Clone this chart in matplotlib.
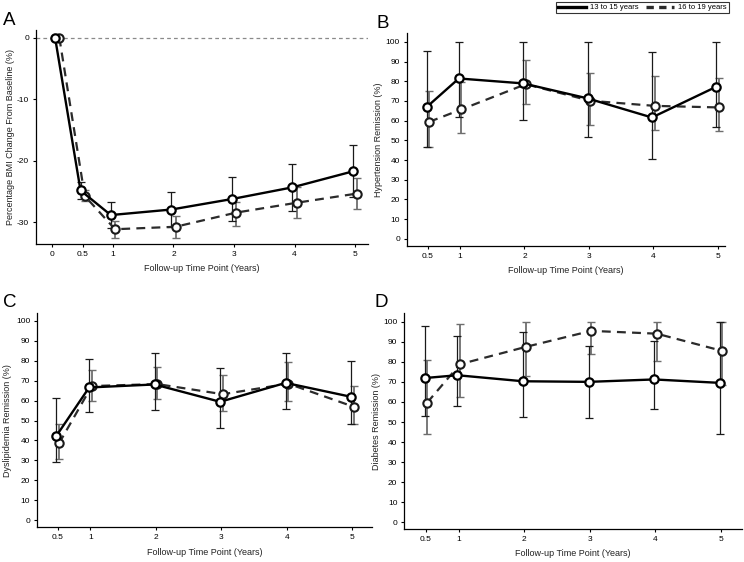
import matplotlib
matplotlib.use("Agg")
import matplotlib.pyplot as plt
from matplotlib.lines import Line2D
import numpy as np

plt.rcParams['font.family'] = ['Liberation Sans', 'DejaVu Sans']
plt.rcParams['axes.unicode_minus'] = False

# ---- data ------------------------------------------------------------------
times = [0.5, 1, 2, 3, 4, 5]
times_a = [0.08, 0.5, 1, 2, 3, 4, 5]

# Panel A: percentage BMI change from baseline
bmi_young = [0, -24.8, -28.8, -27.9, -26.2, -24.3, -21.7]
bmi_young_lo = [0, -26.2, -30.9, -30.8, -29.7, -28.1, -25.9]
bmi_young_hi = [0, -23.5, -26.7, -25.0, -22.7, -20.5, -17.5]
bmi_old = [0, -25.7, -31.1, -30.7, -28.4, -26.8, -25.3]
bmi_old_lo = [0, -26.5, -32.5, -32.5, -30.6, -29.3, -27.8]
bmi_old_hi = [0, -24.8, -29.7, -28.9, -26.7, -24.3, -22.8]

# Panel B: hypertension remission
htn_young = [66.9, 81.4, 78.9, 71.3, 61.6, 77.2]
htn_young_lo = [46.7, 62.0, 60.3, 51.5, 40.3, 56.9]
htn_young_hi = [95.4, 100, 100, 99.7, 94.8, 100]
htn_old = [59.4, 65.7, 78.5, 70.1, 67.5, 66.7]
htn_old_lo = [46.7, 53.8, 68.2, 57.6, 55.2, 54.8]
htn_old_hi = [75.0, 79.7, 90.7, 84.3, 82.6, 81.4]

# Panel C: dyslipidemia remission
dys_young = [42.3, 66.6, 68.1, 59.4, 68.9, 61.9]
dys_young_lo = [29.3, 54.3, 55.2, 46.0, 55.7, 48.0]
dys_young_hi = [61.4, 80.8, 83.9, 76.4, 83.9, 79.9]
dys_old = [38.5, 67.3, 68.3, 63.2, 68.5, 56.9]
dys_old_lo = [30.6, 59.9, 60.7, 54.7, 59.9, 48.0]
dys_old_hi = [48.2, 75.3, 76.9, 72.8, 79.3, 67.4]

# Panel D: diabetes remission
dm_young = [71.9, 73.3, 70.3, 70.0, 71.2, 69.5]
dm_young_lo = [53.2, 58.0, 52.4, 52.2, 56.7, 44.0]
dm_young_hi = [97.7, 92.7, 94.8, 88.0, 90.3, 100]
dm_old = [59.7, 78.8, 87.4, 95.4, 94.0, 85.4]
dm_old_lo = [43.9, 62.5, 72.8, 84.0, 80.6, 68.3]
dm_old_hi = [81.1, 98.7, 100, 100, 100, 100]

group_labels = ['13 to 15 years', '16 to 19 years']
x_label = 'Follow-up Time Point (Years)'


def draw_group(ax, x, y, lo, hi, dx, dashed):
    x = np.asarray(x) + dx
    y = np.asarray(y)
    err = [y - np.asarray(lo), np.asarray(hi) - y]
    if dashed:
        ax.errorbar(x, y, yerr=err, fmt='none', ecolor='#6e6e6e', elinewidth=1.3,
                    capsize=2.7, capthick=1.0, zorder=2)
        ax.plot(x, y, color='#2b2b2b', lw=1.6, ls=(0, (4, 2.8)), marker='o', ms=6,
                mfc='white', mec='#1a1a1a', mew=1.5, zorder=3)
    else:
        ax.errorbar(x, y, yerr=err, fmt='none', ecolor='#1a1a1a', elinewidth=0.9,
                    capsize=2.7, capthick=0.9, zorder=2)
        ax.plot(x, y, color='black', lw=1.7, marker='o', ms=6,
                mfc='white', mec='black', mew=1.6, zorder=4)


def style_axes(ax, xticks, xlabels, yticks, ylabel, xlim, ylim, ylabel_x):
    for side in ['top', 'right']:
        ax.spines[side].set_visible(False)
    for side in ['left', 'bottom']:
        ax.spines[side].set_linewidth(0.9)
    ax.set_xlim(*xlim)
    ax.set_ylim(*ylim)
    ax.set_xticks(xticks)
    ax.set_xticklabels(xlabels)
    ax.set_yticks(yticks)
    ax.tick_params(axis='both', labelsize=6, length=2.5, width=0.8, pad=2.5)
    ax.set_xlabel(x_label, fontsize=6.5, labelpad=4.5, color='#222222')
    ax.set_ylabel(ylabel, fontsize=6.5, color='#222222')
    ax.yaxis.set_label_coords(ylabel_x, 0.5)


fig = plt.figure(figsize=(7.44, 5.62), dpi=100)

ax_a = fig.add_axes([0.0484, 0.5658, 0.446, 0.381])
ax_b = fig.add_axes([0.547, 0.562, 0.427, 0.379])
ax_c = fig.add_axes([0.0501, 0.0617, 0.45, 0.381])
ax_d = fig.add_axes([0.5434, 0.0587, 0.454, 0.384])

# A
ax_a.axhline(0, color='#8a8a8a', lw=0.9, ls=(0, (3, 2.5)), zorder=1)
draw_group(ax_a, times_a, bmi_old, bmi_old_lo, bmi_old_hi, 0.035, True)
draw_group(ax_a, times_a, bmi_young, bmi_young_lo, bmi_young_hi, -0.035, False)
style_axes(ax_a, [0, 0.5, 1, 2, 3, 4, 5], ['0', '0.5', '1', '2', '3', '4', '5'],
           [0, -10, -20, -30], 'Percentage BMI Change From Baseline (%)',
           (-0.27, 5.21), (-33.5, 1.26), -0.062)

pct_ticks = list(range(0, 101, 10))
t_labels = ['0.5', '1', '2', '3', '4', '5']

# B
draw_group(ax_b, times, htn_old, htn_old_lo, htn_old_hi, 0.02, True)
draw_group(ax_b, times, htn_young, htn_young_lo, htn_young_hi, -0.02, False)
style_axes(ax_b, times, t_labels, pct_ticks, 'Hypertension Remission (%)',
           (0.174, 5.11), (-3.7, 104.4), -0.075)

# C
draw_group(ax_c, times, dys_old, dys_old_lo, dys_old_hi, 0.02, True)
draw_group(ax_c, times, dys_young, dys_young_lo, dys_young_hi, -0.02, False)
style_axes(ax_c, times, t_labels, pct_ticks, 'Dyslipidemia Remission (%)',
           (0.188, 5.30), (-3.66, 103.9), -0.075)

# D
draw_group(ax_d, times, dm_old, dm_old_lo, dm_old_hi, 0.02, True)
draw_group(ax_d, times, dm_young, dm_young_lo, dm_young_hi, -0.02, False)
style_axes(ax_d, times, t_labels, pct_ticks, 'Diabetes Remission (%)',
           (0.17, 5.32), (-3.3, 104.2), -0.068)

# panel letters
for letter, (px, py) in zip('ABCD', [(3, 25), (377, 28), (3, 307), (375, 307)]):
    fig.text(px / 744, 1 - py / 562, letter, fontsize=13.5, ha='left', va='baseline')

# legend at top right
handles = [Line2D([], [], color='black', lw=2.4),
           Line2D([], [], color='#2b2b2b', lw=2.4, ls=(0, (2.2, 1.6)))]
leg = fig.legend(handles, group_labels, loc='upper right', ncol=2,
                 bbox_to_anchor=(729 / 744, 1 - 2 / 562), fontsize=5.5,
                 frameon=True, fancybox=False, borderpad=0.25, handlelength=3.6,
                 handletextpad=0.6, columnspacing=1.0, borderaxespad=0)
leg.get_frame().set_edgecolor('black')
leg.get_frame().set_linewidth(0.8)

fig.savefig('out.png', dpi=100)
